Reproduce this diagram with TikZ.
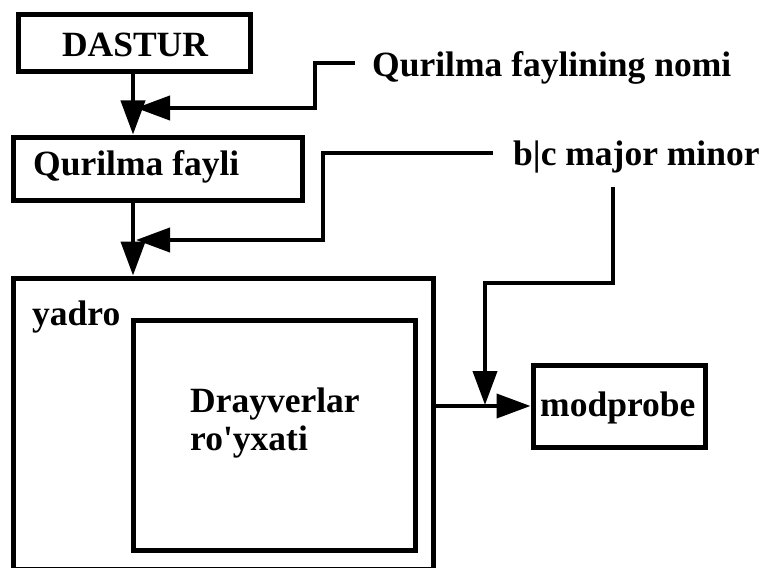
\documentclass[tikz,border=0pt]{standalone}
\usepackage{fontspec}
\setmainfont{Liberation Serif}[Ligatures=TeXOff]
\usetikzlibrary{arrows.meta}
\begin{document}
\begin{tikzpicture}[x=1pt,y=-1pt,
  box/.style={draw=black,line width=5pt,rectangle,inner sep=0pt,fill=white},
  lbl/.style={inner sep=0pt,font=\fontsize{35.5}{40}\selectfont\bfseries},
  conn/.style={line width=4pt,draw=black,line join=miter},
  arr/.style={conn,-{Triangle[length=34pt,width=24pt]}}]
\useasboundingbox (0,0) rectangle (762,567);
\begin{scope}
\clip (0,0) rectangle (762,567);
% boxes
\node[box,minimum width=232pt,minimum height=57pt] (dastur) at (134,43.5) {};
\node[box,minimum width=289pt,minimum height=63pt] (qf) at (157.5,168.5) {};
\node[box,minimum width=420pt,minimum height=291pt] (yadro) at (223,423.5) {};
\node[box,minimum width=282pt,minimum height=230pt] (drv) at (274,435) {};
\node[box,minimum width=172pt,minimum height=82pt] (mp) at (619,406) {};
% texts
\node[lbl,anchor=base] (tDastur) at (135,57) {DASTUR};
\node[lbl,anchor=base west] (tQf) at (33,175) {Qurilma fayli};
\node[lbl,anchor=base west] (tYadro) at (32,325) {yadro};
\node[lbl,anchor=base west] (tDrv) at (190,412) {Drayverlar};
\node[lbl,anchor=base west] (tDrv2) at (190,450) {ro'yxati};
\node[lbl,anchor=base west] (tMp) at (540,416) {modprobe};
\node[lbl,anchor=base west] (nomi) at (372,77) {Qurilma faylining nomi};
\node[lbl,anchor=base west] (bcmm) at (513,165) {b|c major minor};
% coordinates
\coordinate (c1) at (355,63);
\coordinate (c2) at (493,153);
\coordinate (c3) at (613,187);
\coordinate (t1) at (136,108);
\coordinate (t2) at (136,240);
% connectors
\draw[arr] ([xshift=-1pt]dastur.south) -- ([xshift=-1pt]dastur.south |- qf.north);
\draw[arr] ([xshift=-1pt]dastur.south |- qf.south) -- ([xshift=-1pt]dastur.south |- yadro.north);
\draw[arr] (c1) -- (315,63) -- (315,108) -- (t1);
\draw[arr] (c2) -- (323,153) -- (323,240) -- (t2);
\draw[arr] (c3) -- (613,283) -- (485,283) -- (485,405);
\draw[arr] (yadro.east |- mp.west) -- (mp.west);
\end{scope}
\end{tikzpicture}
\end{document}
